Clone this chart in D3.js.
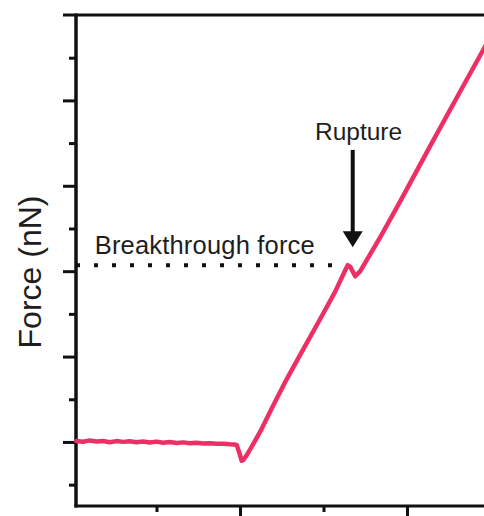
<!DOCTYPE html>
<html>
<head>
<meta charset="utf-8">
<script src="https://cdn.jsdelivr.net/npm/d3@7"></script>
<style>
  html, body { margin: 0; padding: 0; background: #fff; }
  svg { display: block; overflow: hidden; }
  text { font-family: "Liberation Sans", Arial, Helvetica, sans-serif; fill: #1e1e1e; }
</style>
</head>
<body>
<svg id="chart" width="484" height="516"></svg>
<script>
// Force–displacement trace of a tip pushing through a layer
const displacement = [-0.98,-0.94,-0.90,-0.86,-0.82,-0.78,-0.74,-0.70,-0.66,-0.62,-0.58,-0.54,-0.50,-0.46,-0.42,-0.38,-0.34,-0.30,-0.26,-0.22,-0.18,-0.14,-0.10,-0.06,-0.035,-0.02,-0.005,0.01,0.02,0.035,0.06,0.12,0.21,0.27,0.36,0.48,0.57,0.63,0.645,0.66,0.69,0.72,0.84,0.96,1.14,1.32,1.47,1.50];
const force        = [0.012,0.002,0.018,0.006,0.012,-0.004,0.010,0.001,0.008,-0.003,0.006,-0.007,0.004,-0.010,0.000,-0.012,-0.005,-0.015,-0.009,-0.019,-0.015,-0.022,-0.020,-0.028,-0.030,-0.036,-0.12,-0.22,-0.21,-0.17,-0.09,0.117,0.47,0.70,1.02,1.44,1.76,2.01,2.07,2.05,1.94,2.00,2.40,2.82,3.47,4.11,4.64,4.74];

const breakthroughForce = 2.07;
const breakthroughEnd = 0.62;
const ruptureX = 0.675;
const ruptureArrow = [3.42, 2.28];

const yMajorTicks = [0, 1, 2, 3, 4];
const yMinorTicks = [-0.5, 0.5, 1.5, 2.5, 3.5, 4.5];
const xMajorTicks = [0, 1];
const xMinorTicks = [-0.5, 0.5];

const svg = d3.select("#chart");
const x = d3.scaleLinear().domain([-0.982, 1.467]).range([76, 485]);
const y = d3.scaleLinear().domain([-0.75, 5]).range([506, 15]);

const axisColor = "#111";

// frame: left axis, bottom axis, top border
svg.append("line").attr("x1", 63).attr("x2", 484).attr("y1", y(5)).attr("y2", y(5))
  .attr("stroke", axisColor).attr("stroke-width", 3);
svg.append("line").attr("x1", x(-0.982)).attr("x2", x(-0.982)).attr("y1", y(5) - 1.5).attr("y2", y(-0.75) + 1.5)
  .attr("stroke", axisColor).attr("stroke-width", 3.5);
svg.append("line").attr("x1", x(-0.982) - 1.5).attr("x2", 484).attr("y1", y(-0.75)).attr("y2", y(-0.75))
  .attr("stroke", axisColor).attr("stroke-width", 3);

// y ticks (outward, no labels)
const yAxisMajor = d3.axisLeft(y).tickValues(yMajorTicks).tickSize(13).tickFormat("");
const yAxisMinor = d3.axisLeft(y).tickValues(yMinorTicks).tickSize(7).tickFormat("");
[yAxisMajor, yAxisMinor].forEach(ax => {
  const g = svg.append("g").attr("transform", `translate(${x(-0.982)},0)`).call(ax);
  g.select(".domain").remove();
  g.selectAll(".tick line").attr("stroke", axisColor).attr("stroke-width", 3);
});

// x ticks (outward, no labels)
const xAxisMajor = d3.axisBottom(x).tickValues(xMajorTicks).tickSize(14).tickFormat("");
const xAxisMinor = d3.axisBottom(x).tickValues(xMinorTicks).tickSize(6).tickFormat("");
[xAxisMajor, xAxisMinor].forEach(ax => {
  const g = svg.append("g").attr("transform", `translate(0,${y(-0.75)})`).call(ax);
  g.select(".domain").remove();
  g.selectAll(".tick line").attr("stroke", axisColor).attr("stroke-width", 3);
});

// breakthrough level
svg.append("line")
  .attr("x1", x(-0.982)).attr("x2", x(breakthroughEnd))
  .attr("y1", y(breakthroughForce)).attr("y2", y(breakthroughForce))
  .attr("stroke", "#111").attr("stroke-width", 4).attr("stroke-dasharray", "4 14");

// trace
const pts = displacement.map((d, i) => [d, force[i]]);
svg.append("path")
  .datum(pts)
  .attr("fill", "none")
  .attr("stroke", "#ee2f66")
  .attr("stroke-width", 4.5)
  .attr("stroke-linejoin", "round")
  .attr("stroke-linecap", "round")
  .attr("d", d3.line().x(d => x(d[0])).y(d => y(d[1])));

// rupture arrow
const ax0 = x(ruptureX);
svg.append("line").attr("x1", ax0).attr("x2", ax0)
  .attr("y1", y(ruptureArrow[0])).attr("y2", y(ruptureArrow[1]) - 12)
  .attr("stroke", "#111").attr("stroke-width", 4);
const tipY = y(ruptureArrow[1]);
svg.append("path")
  .attr("d", `M${ax0 - 10},${tipY - 16} L${ax0 + 10},${tipY - 16} L${ax0},${tipY} Z`)
  .attr("fill", "#111");

// labels
svg.append("text").attr("x", x(-0.87)).attr("y", y(2.20))
  .attr("font-size", 25.5).attr("textLength", 220).attr("lengthAdjust", "spacing")
  .text("Breakthrough force");
svg.append("text").attr("x", x(0.71)).attr("y", y(3.54))
  .attr("font-size", 24.5).attr("text-anchor", "middle")
  .text("Rupture");
svg.append("text")
  .attr("transform", `translate(41,272) rotate(-90)`)
  .attr("font-size", 32).attr("text-anchor", "middle")
  .text("Force (nN)");
</script>
</body>
</html>
